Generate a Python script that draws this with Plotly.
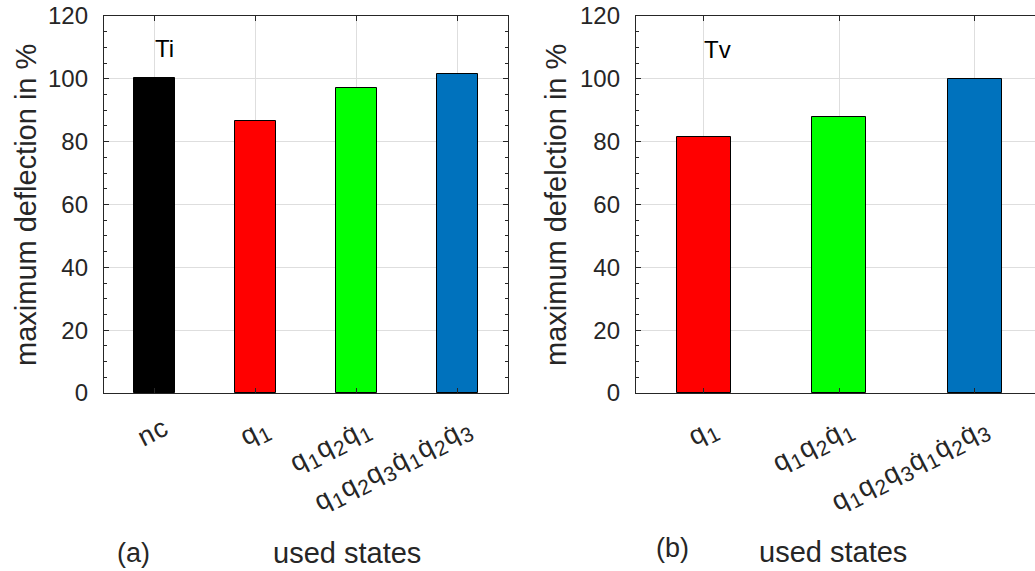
import plotly.graph_objects as go

# ---- data ----
def s(d):
    return "<sub><span style='font-size:21px'>" + d + "</span></sub>"

def lab(t):
    return "<span style='letter-spacing:1px'>" + t + "</span>"

cats_a = [lab("nc"), lab("q" + s("1")), lab("q" + s("1") + "q" + s("2") + "q\u0307" + s("1")),
          lab("q" + s("1") + "q" + s("2") + "q" + s("3") + "q\u0307" + s("1") + "q\u0307" + s("2") + "q\u0307" + s("3"))]
vals_a = [100.2, 86.6, 97.2, 101.4]
colors_a = ["#000000", "#ff0000", "#00ff00", "#0072bd"]

cats_b = [lab("q" + s("1")), lab("q" + s("1") + "q" + s("2") + "q\u0307" + s("1")),
          lab("q" + s("1") + "q" + s("2") + "q" + s("3") + "q\u0307" + s("1") + "q\u0307" + s("2") + "q\u0307" + s("3"))]
vals_b = [81.4, 87.7, 100.0]
colors_b = ["#ff0000", "#00ff00", "#0072bd"]

yticks = [0, 20, 40, 60, 80, 100, 120]

W, H = 1035, 571
FONT = "Liberation Sans, Arial, Helvetica, sans-serif"
AX = "#262626"
GRID = "#dedede"

fig = go.Figure()
fig.add_trace(go.Bar(x=list(range(1, len(cats_a) + 1)), y=vals_a, width=0.41,
                     marker=dict(color=colors_a, line=dict(color="#000000", width=1)),
                     xaxis="x", yaxis="y", showlegend=False, hoverinfo="skip"))
fig.add_trace(go.Bar(x=list(range(1, len(cats_b) + 1)), y=vals_b, width=0.4,
                     marker=dict(color=colors_b, line=dict(color="#000000", width=1)),
                     xaxis="x2", yaxis="y2", showlegend=False, hoverinfo="skip"))

def xax(domain, n, labels, rng, anchor):
    return dict(domain=domain, range=rng, anchor=anchor, automargin=False,
                tickmode="array", tickvals=list(range(1, n + 1)), ticktext=labels,
                tickangle=-27, ticks="inside", ticklen=5, tickcolor=AX, tickwidth=1,
                showline=True, linecolor=AX, linewidth=1.3, mirror="ticks",
                showgrid=True, gridcolor=GRID, gridwidth=1, zeroline=False,
                tickfont=dict(family=FONT, size=27, color=AX),
                ticklabelstandoff=8, ticklabelshift=10)

def yax(domain, anchor, mirror):
    return dict(domain=domain, range=[0, 120], anchor=anchor, automargin=False,
                tickmode="array", tickvals=yticks, ticktext=[str(v) for v in yticks],
                ticks="inside", ticklen=5, tickcolor=AX, tickwidth=1,
                minor=dict(dtick=5, tick0=0, ticks="inside", ticklen=3, tickcolor=AX, showgrid=False),
                showline=True, linecolor=AX, linewidth=1.3, mirror=mirror,
                showgrid=True, gridcolor=GRID, gridwidth=1, zeroline=False,
                tickfont=dict(family=FONT, size=24, color=AX), ticklabelstandoff=10)

ydom = [1 - 393 / H, 1 - 16 / H]
fig.update_layout(
    width=W, height=H,
    margin=dict(l=0, r=0, t=0, b=0, pad=0, autoexpand=False),
    plot_bgcolor="white", paper_bgcolor="white",
    bargap=0,
    xaxis=xax([104 / W, 508 / W], len(cats_a), cats_a, [0.5, 4.5], "y"),
    yaxis=yax(ydom, "x", "ticks"),
    xaxis2=xax([636 / W, 1.0], len(cats_b), cats_b, [0.5, 0.5 + (W - 636) / 135.5], "y2"),
    yaxis2=yax(ydom, "x2", False),
)

def ann(text, x, y, size, color="#000000", angle=0, xanchor="center"):
    fig.add_annotation(text=text, x=x / W, y=1 - y / H, xref="paper", yref="paper",
                       showarrow=False, textangle=angle, xanchor=xanchor, yanchor="middle",
                       borderpad=0, font=dict(family=FONT, size=size, color=color))

ann("Ti", 154, 48, 24, xanchor="left")
ann("Tv", 703, 50, 24, xanchor="left")
ann("maximum deflection in %", 26, 205, 29, color=AX, angle=-90)
ann("maximum defelction in %", 556, 205, 29, color=AX, angle=-90)
ann("(a)", 133, 553, 27, color=AX)
ann("used states", 347, 553, 29, color=AX)
ann("(b)", 672, 548, 27, color=AX)
ann("used states", 833, 552, 29, color=AX)

fig.write_html("out.html", post_script="document.body.style.margin='0';",
               config={"displayModeBar": False})
